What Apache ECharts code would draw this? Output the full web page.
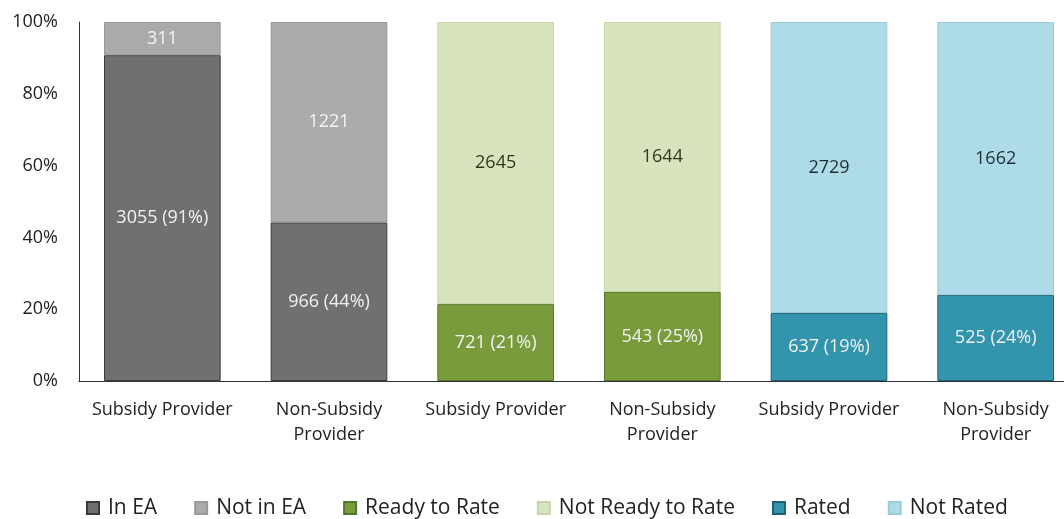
<!DOCTYPE html>
<html><head><meta charset="utf-8">
<script src="https://cdn.jsdelivr.net/npm/echarts@6/dist/echarts.min.js"></script>
<style>html,body{margin:0;padding:0;background:#fff;overflow:hidden}#c{width:1080px;height:519px}</style>
</head><body><div id="c"></div>
<script>
const categories = ['Subsidy Provider', 'Non-Subsidy\nProvider', 'Subsidy Provider', 'Non-Subsidy\nProvider', 'Subsidy Provider', 'Non-Subsidy\nProvider'];
const inEA = [3055, 966, null, null, null, null];
const notInEA = [311, 1221, null, null, null, null];
const readyToRate = [null, null, 721, 543, null, null];
const notReadyToRate = [null, null, 2645, 1644, null, null];
const rated = [null, null, null, null, 637, 525];
const notRated = [null, null, null, null, 2729, 1662];
const yTicks = [0, 20, 40, 60, 80, 100];

const pairs = [[inEA, notInEA], [readyToRate, notReadyToRate], [rated, notRated]];
function totals(i) {
  for (const [a, b] of pairs) if (a[i] != null) return a[i] + b[i];
  return 1;
}
function pctData(arr) {
  return arr.map((v, i) => v == null ? '-' : { value: v / totals(i) * 100, count: v });
}
const font = 'Open Sans, sans-serif';
function mk(name, arr, color, border, labelColor, showPct) {
  return {
    name, type: 'bar', stack: 'a', barWidth: '70%',
    data: pctData(arr),
    itemStyle: { color, borderColor: border, borderWidth: 1 },
    label: {
      show: true, position: 'inside', color: labelColor, fontSize: 18, fontFamily: font,
      formatter: p => showPct ? p.data.count + ' (' + Math.round(p.data.value) + '%)' : String(p.data.count)
    }
  };
}
const chart = echarts.init(document.getElementById('c'));
chart.setOption({
  animation: false,
  grid: { left: 79, right: 1, top: 22, bottom: 138 },
  legend: {
    top: 497, left: 86, itemWidth: 12, itemHeight: 12, itemGap: 37, padding: 0,
    icon: 'rect',
    textStyle: { fontSize: 21, color: '#222', fontFamily: font, lineHeight: 22, padding: [0, 0, 0, 4] },
    data: ['In EA', 'Not in EA', 'Ready to Rate', 'Not Ready to Rate', 'Rated', 'Not Rated']
  },
  xAxis: {
    type: 'category', data: categories,
    axisLine: { show: true, lineStyle: { color: '#333', width: 1 } },
    axisTick: { show: false },
    axisLabel: { fontSize: 18, color: '#222', fontFamily: font, lineHeight: 25, margin: 16, interval: 0 }
  },
  yAxis: {
    type: 'value', min: yTicks[0], max: yTicks[yTicks.length - 1], interval: 20,
    axisLine: { show: true, lineStyle: { color: '#333', width: 1 } },
    axisTick: { show: false },
    splitLine: { show: false },
    axisLabel: { formatter: '{value}%', fontSize: 18, color: '#222', fontFamily: font, margin: 21 }
  },
  series: [
    mk('In EA', inEA, '#707070', '#3c3c3c', '#f2f2f2', true),
    mk('Not in EA', notInEA, '#ababab', '#999999', '#f4f4f4', false),
    mk('Ready to Rate', readyToRate, '#7a9b3b', '#56752a', '#f2f2f2', true),
    mk('Not Ready to Rate', notReadyToRate, '#d8e4bd', '#c5d6a5', '#2e3a1c', false),
    mk('Rated', rated, '#3395ad', '#1e6375', '#f2f2f2', true),
    mk('Not Rated', notRated, '#addbe8', '#9ccbd8', '#1f2e33', false)
  ]
});
</script></body></html>
